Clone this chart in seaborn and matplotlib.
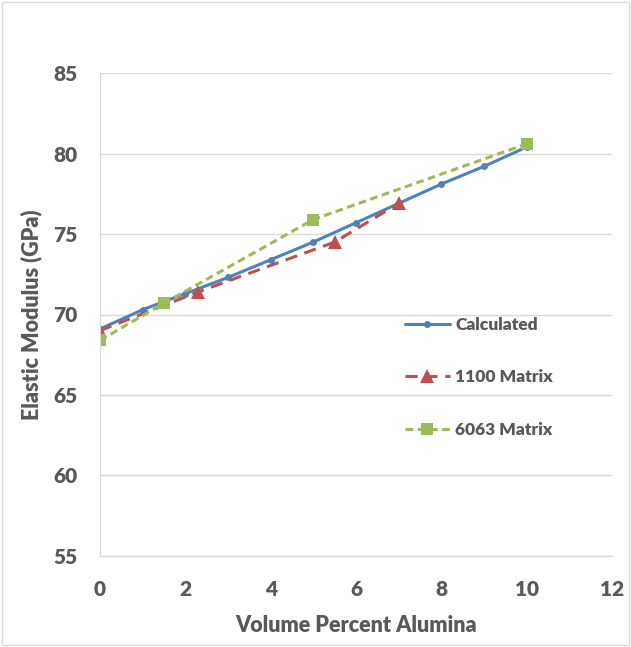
import numpy as np
import matplotlib
matplotlib.use("Agg")
import matplotlib.pyplot as plt
import seaborn as sns
import pandas as pd

# data
calc_x = [0, 1, 2, 3, 4, 5, 6, 7, 8, 9, 10]
calc_y = [69.1, 70.3, 71.3, 72.3, 73.4, 74.5, 75.7, 76.9, 78.1, 79.2, 80.4]
m1100_x = [0, 2.3, 5.5, 7]
m1100_y = [69.0, 71.4, 74.5, 76.9]
m6063_x = [0, 1.5, 5, 10]
m6063_y = [68.4, 70.7, 75.9, 80.6]

sns.set_style("white")
plt.rcParams['font.family'] = ['Lato', 'DejaVu Sans']

fig = plt.figure(figsize=(6.31, 6.47), dpi=100)
ax = fig.add_axes([100/631, 1 - 556/647, 512/631, 483/647])

grey = "#595959"
sns.lineplot(x=calc_x, y=calc_y, ax=ax, color="#4F81BD", lw=2.2,
             marker="o", markersize=5, markeredgewidth=0, label="Calculated")
sns.lineplot(x=m1100_x, y=m1100_y, ax=ax, color="#C0504D", lw=2.2,
             linestyle=(0, (4, 2.5)), marker="^", markersize=10,
             markeredgewidth=0, label="1100 Matrix")
sns.lineplot(x=m6063_x, y=m6063_y, ax=ax, color="#9BBB59", lw=2.2,
             linestyle=(0, (2.5, 1.5)), marker="s", markersize=9,
             markeredgewidth=0, label="6063 Matrix")

ax.set_xlim(0, 12)
ax.set_ylim(55, 85)
ax.set_xticks(range(0, 13, 2))
ax.set_yticks(range(55, 86, 5))
ax.grid(axis="y", color="#D9D9D9", lw=1)
ax.set_axisbelow(True)
for s in ["top", "right"]:
    ax.spines[s].set_visible(False)
for s in ["left", "bottom"]:
    ax.spines[s].set_color("#D9D9D9")
ax.tick_params(axis="both", length=0, labelsize=15, labelcolor=grey)
ax.tick_params(axis="x", pad=17)
ax.tick_params(axis="y", pad=16)
for lab in ax.get_xticklabels() + ax.get_yticklabels():
    lab.set_fontweight("heavy")

ax.set_xlabel("Volume Percent Alumina", fontsize=15.5, fontweight="heavy", color=grey, labelpad=12)
ax.set_ylabel("Elastic Modulus (GPa)", fontsize=15.5, fontweight="heavy", color=grey, labelpad=8)

leg = ax.legend(loc="center left", bbox_to_anchor=(0.565, 0.37), frameon=False,
                labelspacing=2.1, handlelength=2.6, handletextpad=0.3,
                prop={"weight": "heavy", "size": 12.5})
for t in leg.get_texts():
    t.set_color(grey)

# light frame round the whole figure
fig.patches.append(plt.Rectangle((0.003, 0.003), 0.994, 0.994, transform=fig.transFigure,
                                 fill=False, edgecolor="#D9D9D9", lw=1))

fig.savefig("out.png", dpi=100)
